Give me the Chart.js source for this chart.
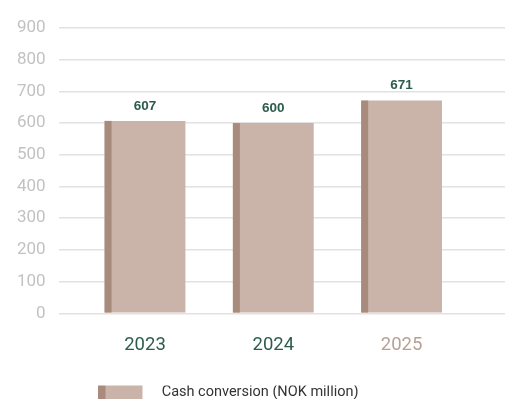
<!DOCTYPE html>
<html>
<head>
<meta charset="utf-8">
<script src="https://cdn.jsdelivr.net/npm/chart.js@4.4.1/dist/chart.umd.min.js"></script>
<style>
  html, body { margin: 0; padding: 0; background: #fff; }
  #wrap { width: 505px; height: 399px; }
</style>
</head>
<body>
<div id="wrap"><canvas id="cashChart"></canvas></div>
<script>
// === ДАННЫЕ ===
const years = [2023, 2024, 2025];
const cashValues = [607, 600, 671];
const yTicks = [0, 100, 200, 300, 400, 500, 600, 700, 800, 900];
const seriesLabel = 'Cash conversion (NOK million)';

// === ЦВЕТА ===
const barFill = '#cab4a9';
const barEdge = '#a88b7d';
const green = '#2d5c4d';
const tan = '#b9a093';

// картинка для легенды (светлый прямоугольник с тёмной полоской слева, справа пусто)
const swatch = document.createElement('canvas');
swatch.width = 56; swatch.height = 18;
const sctx = swatch.getContext('2d');
sctx.fillStyle = barFill; sctx.fillRect(0, 0, 44, 18);
sctx.fillStyle = barEdge; sctx.fillRect(0, 0, 7, 18);

// тёмная полоска слева на каждом столбике + подписи значений
const barDecor = {
    id: 'barDecor',
    afterDatasetsDraw(chart) {
        const ctx = chart.ctx;
        const meta = chart.getDatasetMeta(0);
        ctx.save();
        meta.data.forEach((bar, i) => {
            const left = bar.x - bar.width / 2;
            ctx.fillStyle = barEdge;
            ctx.fillRect(left, bar.y, 7, bar.base - bar.y);
            ctx.fillStyle = green;
            ctx.font = 'bold 13.5px "Liberation Sans", Arial, sans-serif';
            ctx.textAlign = 'center';
            ctx.textBaseline = 'middle';
            ctx.fillText(String(cashValues[i]), bar.x, bar.y - 15);
        });
        ctx.restore();
    }
};

// сдвиг легенды (влево и вниз), как на исходнике
const legendShift = {
    id: 'legendShift',
    afterLayout(chart) {
        const lg = chart.legend;
        lg.left -= 26; lg.right -= 26;
        lg.top += 16; lg.bottom += 16;
    }
};

new Chart(document.getElementById('cashChart'), {
    type: 'bar',
    data: {
        datasets: [{
            label: seriesLabel,
            data: years.map((y, i) => ({ x: y, y: cashValues[i] })),
            backgroundColor: barFill,
            borderWidth: 0,
            barPercentage: 0.63,
            categoryPercentage: 1,
            pointStyle: swatch
        }]
    },
    options: {
        responsive: true,
        maintainAspectRatio: false,
        animation: false,
        layout: { padding: { left: 4, top: 28, right: 0, bottom: 5 } },
        plugins: {
            tooltip: { enabled: false },
            legend: {
                position: 'bottom',
                labels: {
                    usePointStyle: true,
                    pointStyleWidth: 56,
                    padding: 0,
                    color: '#333',
                    font: { family: 'Roboto', size: 14.5 }
                }
            }
        },
        scales: {
            x: {
                type: 'linear',
                offset: false,
                min: 2022.327,
                max: 2025.806,
                afterBuildTicks: axis => { axis.ticks = years.map(v => ({ value: v })); },
                grid: { display: false },
                border: { display: false },
                ticks: {
                    padding: 13,
                    font: { family: 'Roboto', size: 18.5 },
                    color: c => c.tick && c.tick.value === 2025 ? tan : green,
                    callback: v => String(v)
                }
            },
            y: {
                min: 0,
                max: 900,
                afterBuildTicks: axis => { axis.ticks = yTicks.map(v => ({ value: v })); },
                grid: { color: '#e2e2e2', lineWidth: 1.5, drawTicks: false },
                border: { display: false },
                ticks: {
                    padding: 13,
                    font: { family: 'Roboto', size: 17 },
                    color: '#c2c2c2'
                }
            }
        }
    },
    plugins: [barDecor, legendShift]
});
</script>
</body>
</html>
